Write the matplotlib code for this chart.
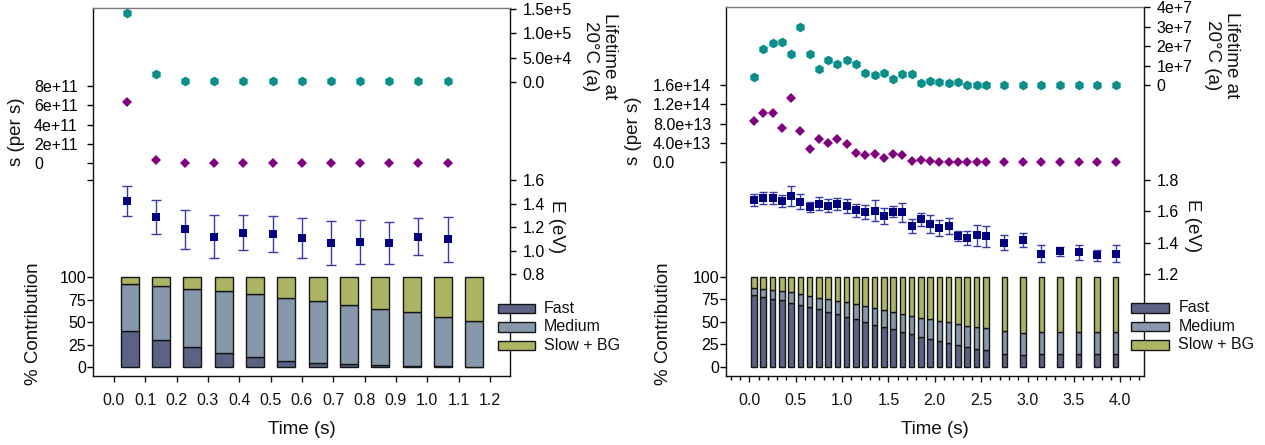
import matplotlib
matplotlib.use('Agg')
import matplotlib.pyplot as plt
from matplotlib.patches import Rectangle
import numpy as np

plt.rcParams['font.family'] = ['Liberation Sans', 'DejaVu Sans']

W, H = 1265, 445

# ---------------- Left panel data ----------------
t_left = [0.040, 0.133, 0.226, 0.320, 0.413, 0.506, 0.599, 0.692, 0.785, 0.878, 0.971, 1.065]
life_left = [1.43e5, 1.6e4, 1.5e3, 900, 900, 900, 900, 900, 900, 900, 900, 900]
s_left = [6.37e11, 3.0e10, 0, 0, 0, 0, 0, 0, 0, 0, 0, 0]
E_left = [1.426, 1.292, 1.185, 1.122, 1.156, 1.145, 1.110, 1.066, 1.077, 1.066, 1.122, 1.100]
Eerr_left = [0.13, 0.145, 0.165, 0.18, 0.15, 0.15, 0.17, 0.185, 0.19, 0.18, 0.16, 0.19]
tbar_left = [0.05, 0.15, 0.25, 0.35, 0.45, 0.55, 0.65, 0.75, 0.85, 0.95, 1.05, 1.15]
fast_left = [40.0, 30.5, 22.3, 15.6, 10.8, 7.0, 4.5, 3.0, 1.8, 1.1, 0.7, 0.4]
medium_left = [52.9, 59.8, 65.0, 68.8, 70.2, 70.0, 69.1, 66.5, 63.2, 59.9, 55.3, 51.2]
slow_left = [7.1, 9.7, 12.7, 15.6, 19.0, 23.0, 26.4, 30.5, 35.0, 39.0, 44.0, 48.4]

# ---------------- Right panel data ----------------
t_right = [0.05, 0.15, 0.25, 0.35, 0.45, 0.55, 0.65, 0.75, 0.85, 0.95,
           1.05, 1.15, 1.25, 1.35, 1.45, 1.55, 1.65, 1.75, 1.85, 1.95,
           2.05, 2.15, 2.25, 2.35, 2.45, 2.55, 2.75, 2.95, 3.15, 3.35,
           3.55, 3.75, 3.95]
life_right = [0.443e7, 1.857e7, 2.18e7, 2.23e7, 1.62e7, 3.0e7, 1.60e7, 0.82e7, 1.29e7, 1.09e7,
              1.31e7, 1.11e7, 0.65e7, 0.545e7, 0.65e7, 0.32e7, 0.58e7, 0.58e7, 0.12e7, 0.24e7,
              0.15e7, 0.12e7, 0.15e7, 0.03e7, 0.03e7, 0.03e7, 0, 0, 0, 0,
              0, 0, 0]
s_right = [8.58e13, 10.1e13, 10.1e13, 7.0e13, 13.33e13, 6.45e13, 2.81e13, 4.74e13, 3.91e13, 4.74e13,
           3.77e13, 1.92e13, 1.44e13, 1.71e13, 0.82e13, 1.71e13, 1.44e13, 0.2e13, 0.47e13, 0.27e13,
           0.13e13, 0.13e13, 0, 0, 0, 0, 0, 0, 0, 0,
           0, 0, 0]
E_right = [1.673, 1.684, 1.684, 1.666, 1.698, 1.662, 1.626, 1.649, 1.636, 1.649,
           1.636, 1.607, 1.596, 1.605, 1.569, 1.598, 1.594, 1.505, 1.549, 1.519,
           1.492, 1.507, 1.443, 1.430, 1.446, 1.440, 1.401, 1.417, 1.330, 1.345,
           1.339, 1.319, 1.328]
Eerr_right = [0.038, 0.038, 0.038, 0.039, 0.061, 0.049, 0.031, 0.042, 0.040, 0.038,
              0.044, 0.042, 0.047, 0.066, 0.051, 0.037, 0.061, 0.046, 0.043, 0.060,
              0.050, 0.053, 0.034, 0.043, 0.065, 0.069, 0.048, 0.043, 0.055, 0.030,
              0.047, 0.037, 0.054]
fast_right = [79.4, 77.9, 75.6, 73.8, 71.2, 68.7, 66.4, 63.9, 60.9, 58.3,
              55.7, 52.8, 49.8, 46.8, 44.3, 41.7, 38.8, 36.2, 33.6, 31.4,
              28.8, 26.7, 24.4, 22.1, 20.3, 18.8, 14.4, 12.9, 14.0, 14.0,
              14.0, 14.0, 14.0]
medium_right = [8.4, 8.5, 9.3, 10.0, 11.5, 12.1, 12.2, 12.9, 14.1, 15.2,
                15.9, 16.6, 17.4, 18.2, 18.8, 19.5, 19.5, 20.3, 21.0, 21.4,
                22.5, 22.8, 23.2, 23.7, 24.0, 24.0, 25.1, 24.4, 24.4, 24.4,
                24.4, 24.4, 24.4]
slow_right = [12.2, 13.6, 15.1, 16.2, 17.3, 19.2, 21.4, 23.2, 25.0, 26.5,
              28.4, 30.6, 32.8, 35.0, 36.9, 38.8, 41.7, 43.5, 45.4, 47.2,
              48.7, 50.5, 52.4, 54.2, 55.7, 57.2, 60.5, 62.7, 61.6, 61.6,
              61.6, 61.6, 61.6]

legend_labels = ['Fast', 'Medium', 'Slow + BG']

# ---------------- Styles ----------------
C_FAST = '#5d6284'
C_MED = '#8798aa'
C_SLOW = '#adb565'
C_EDGE = '#151515'
C_TEAL = '#0b8f8a'
C_MAG = '#800080'
C_NAVY = '#000080'
C_ERR = '#3a3aa8'
TICK_FS = 11.5
LAB_FS = 13.5
TICKLEN = 4.3


def figrect(x0, y0, x1, y1):
    return [x0 / W, 1 - y1 / H, (x1 - x0) / W, (y1 - y0) / H]


def overlay(rect, xlim):
    a = fig.add_axes(rect)
    a.set_xlim(xlim)
    a.patch.set_visible(False)
    for sp in a.spines.values():
        sp.set_visible(False)
    a.tick_params(axis='x', which='both', bottom=False, top=False,
                  labelbottom=False, labeltop=False)
    return a


def panel(rect, xlim, xmajor, xlabels, xminor, t, life, s, E, Eerr, cap,
          tb, fast, med, slow, barw, life_lim, life_ticks, life_labels,
          s_lim, s_ticks, s_labels, s_pad, E_lim, E_ticks, E_labels, pct_lim):
    # bars + frame + x axis
    axb = fig.add_axes(rect)
    axb.set_xlim(xlim)
    axb.set_ylim(pct_lim)
    fast = np.array(fast)
    med = np.array(med)
    slow = np.array(slow)
    kw = dict(width=barw, edgecolor=C_EDGE, linewidth=1.0, zorder=2)
    axb.bar(tb, fast, color=C_FAST, **kw)
    axb.bar(tb, med, bottom=fast, color=C_MED, **kw)
    axb.bar(tb, slow, bottom=fast + med, color=C_SLOW, **kw)
    axb.set_yticks([0, 25, 50, 75, 100], ['0', '25', '50', '75', '100'])
    axb.set_xticks(xmajor, xlabels)
    if xminor is not None:
        axb.set_xticks(xminor, minor=True)
    axb.tick_params(axis='x', which='major', direction='out', length=TICKLEN,
                    width=1, pad=8, labelsize=TICK_FS, colors='#111111')
    axb.tick_params(axis='x', which='minor', direction='out', length=2.7, width=1)
    axb.tick_params(axis='y', direction='out', length=TICKLEN, width=1,
                    pad=0.5, labelsize=TICK_FS)
    for name in ['left', 'right', 'bottom']:
        axb.spines[name].set_color('#111111')
        axb.spines[name].set_linewidth(1.0)
    axb.spines['top'].set_color('#7a7a7a')
    axb.spines['top'].set_linewidth(1.0)

    # lifetime (right, top)
    axl = overlay(rect, xlim)
    axl.set_ylim(life_lim)
    axl.plot(t, life, linestyle='none', marker='h', markersize=7,
             color=C_TEAL, markeredgewidth=0)
    axl.yaxis.tick_right()
    axl.set_yticks(life_ticks, life_labels)
    axl.tick_params(axis='y', direction='out', length=TICKLEN, width=1,
                    pad=4.8, labelsize=TICK_FS)

    # s (left)
    axs = overlay(rect, xlim)
    axs.set_ylim(s_lim)
    axs.plot(t, s, linestyle='none', marker='D', markersize=5,
             color=C_MAG, markeredgewidth=0)
    axs.set_yticks(s_ticks, s_labels, ha='left')
    axs.tick_params(axis='y', direction='out', length=TICKLEN, width=1,
                    pad=s_pad, labelsize=TICK_FS)

    # E (right)
    axe = overlay(rect, xlim)
    axe.set_ylim(E_lim)
    axe.errorbar(t, E, yerr=Eerr, fmt='none', ecolor=C_ERR, elinewidth=1.0,
                 capsize=cap, capthick=1.0)
    axe.plot(t, E, linestyle='none', marker='s', markersize=5.6,
             color=C_NAVY, markeredgewidth=0)
    axe.yaxis.tick_right()
    axe.set_yticks(E_ticks, E_labels)
    axe.tick_params(axis='y', direction='out', length=TICKLEN, width=1,
                    pad=4.8, labelsize=TICK_FS)
    return axb


def legend(x0, w, tops, h, tx):
    cols = [C_FAST, C_MED, C_SLOW]
    for top, c, lab in zip(tops, cols, legend_labels):
        r = Rectangle((x0 / W, 1 - (top + h) / H), w / W, h / H,
                      transform=fig.transFigure, facecolor=c,
                      edgecolor=C_EDGE, linewidth=1.0)
        fig.patches.append(r)
        fig.text(tx / W, 1 - (top + h / 2) / H, lab, fontsize=TICK_FS,
                 ha='left', va='center', color='#111111')


def label(x, y, txt, rot):
    fig.text(x / W, 1 - y / H, txt, rotation=rot, ha='center', va='center',
             fontsize=LAB_FS, multialignment='center', color='#111111')


fig = plt.figure(figsize=(W / 100, H / 100), dpi=100)

# Left panel
panel(figrect(93, 8, 510, 376), (-0.067, 1.264),
      [0.0, 0.1, 0.2, 0.3, 0.4, 0.5, 0.6, 0.7, 0.8, 0.9, 1.0, 1.1, 1.2],
      ['0.0', '0.1', '0.2', '0.3', '0.4', '0.5', '0.6', '0.7', '0.8', '0.9', '1.0', '1.1', '1.2'],
      None,
      t_left, life_left, s_left, E_left, Eerr_left, 3.8,
      tbar_left, fast_left, medium_left, slow_left, 0.058,
      (-6.106e5, 1.529e5), [0, 5e4, 1e5, 1.5e5], ['0.0', '5.0e+4', '1.0e+5', '1.5e+5'],
      (-2.2e12, 1.607e12), [-1.73e11, 0, 2e11, 4e11, 6e11, 8e11],
      ['', '0', '2e+11', '4e+11', '6e+11', '8e+11'], 38.2,
      (-0.064, 3.068), [0.8, 1.0, 1.2, 1.4, 1.6], ['0.8', '1.0', '1.2', '1.4', '1.6'],
      (-10.03, 400.2))

# Right panel
panel(figrect(725.7, 7, 1144, 376), (-0.255, 4.256),
      [0.0, 0.5, 1.0, 1.5, 2.0, 2.5, 3.0, 3.5, 4.0],
      ['0.0', '0.5', '1.0', '1.5', '2.0', '2.5', '3.0', '3.5', '4.0'],
      [v / 10 for v in range(-2, 43)],
      t_right, life_right, s_right, E_right, Eerr_right, 3.1,
      t_right, fast_right, medium_right, slow_right, 0.06,
      (-14.87e7, 3.986e7), [0, 1e7, 2e7, 3e7, 4e7], ['0', '1e+7', '2e+7', '3e+7', '4e+7'],
      (-4.406e14, 3.202e14), [0, 4e13, 8e13, 1.2e14, 1.6e14],
      ['0.0', '4.0e+13', '8.0e+13', '1.2e+14', '1.6e+14'], 48.2,
      (0.548, 2.906), [1.2, 1.4, 1.6, 1.8], ['1.2', '1.4', '1.6', '1.8'],
      (-9.97, 398.7))

legend(497.7, 37, [304, 322.3, 340.7], 9.3, 544)
legend(1131, 38, [303.3, 321.7, 340.3], 9.3, 1178.3)

label(16.7, 131.5, 's (per s)', 90)
label(633.5, 131, 's (per s)', 90)
label(33, 324, '% Contribution', 90)
label(664, 324, '% Contribution', 90)
label(600, 56, 'Lifetime at\n20°C (a)', 270)
label(1222, 55, 'Lifetime at\n20°C (a)', 270)
label(556, 226.5, 'E (eV)', 270)
label(1192, 226, 'E (eV)', 270)
label(301.5, 429, 'Time (s)', 0)
label(935, 429, 'Time (s)', 0)

fig.savefig('out.png', dpi=100)
